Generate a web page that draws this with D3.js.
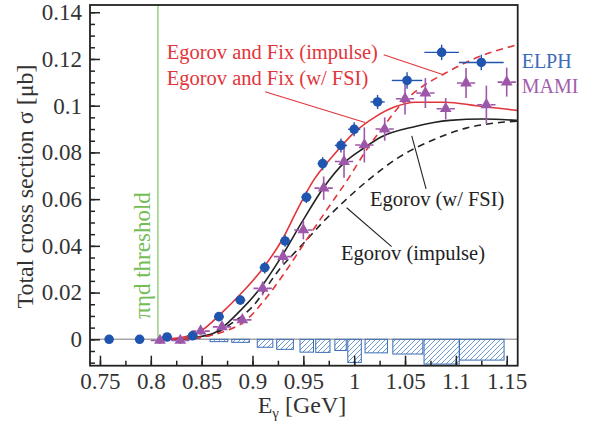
<!DOCTYPE html>
<html><head><meta charset="utf-8">
<script src="https://cdn.jsdelivr.net/npm/d3@7"></script>
<style>
html,body{margin:0;padding:0;background:#fff;}
svg text{font-family:"Liberation Serif","Times New Roman",serif;}
</style></head>
<body><svg id="c" width="590" height="421"></svg>
<script>
// ---------- data ----------
const xTicks = [0.75,0.8,0.85,0.9,0.95,1.0,1.05,1.1,1.15];
const xTickLabels = ["0.75","0.8","0.85","0.9","0.95","1","1.05","1.1","1.15"];
const yTicks = [0,0.02,0.04,0.06,0.08,0.1,0.12,0.14];
const yTickLabels = ["0","0.02","0.04","0.06","0.08","0.1","0.12","0.14"];

// ELPH (blue circles)
const elphE   = [0.759,0.789,0.816,0.841,0.867,0.888,0.912,0.932,0.953,0.969,0.987,1.000,1.023,1.052,1.086,1.125];
const elphV   = [0,0,0.001,0.0015,0.0097,0.0168,0.0307,0.0421,0.0608,0.0752,0.0830,0.0899,0.1016,0.1108,0.1228,0.1185];
const elphDE  = [0.004,0.004,0.005,0.005,0.005,0.005,0.005,0.005,0.005,0.005,0.006,0.006,0.007,0.015,0.017,0.022];
const elphDV  = [0.001,0.001,0.0015,0.0015,0.002,0.002,0.0025,0.0025,0.0025,0.0028,0.003,0.003,0.003,0.0035,0.0033,0.0033];

// MAMI (purple triangles)
const mamiE  = [0.809,0.829,0.849,0.870,0.890,0.910,0.930,0.950,0.970,0.990,1.010,1.030,1.050,1.070,1.090,1.110,1.130,1.150];
const mamiV  = [-0.0005,-0.0005,0.0035,0.0053,0.0083,0.0218,0.0354,0.0468,0.0647,0.0761,0.0832,0.0900,0.1030,0.1054,0.0987,0.1097,0.1004,0.1101];
const mamiDE = [0.009,0.009,0.009,0.009,0.009,0.009,0.009,0.009,0.009,0.009,0.009,0.009,0.009,0.009,0.009,0.009,0.009,0.009];
const mamiDV = [0.0015,0.0015,0.0015,0.0015,0.002,0.003,0.003,0.004,0.005,0.007,0.0075,0.005,0.0068,0.0064,0.0046,0.0064,0.0082,0.0062];

// systematic errors (ELPH, hatched)
const sysLo  = [0.8583,0.8796,0.9047,0.9238,0.9467,0.9622,0.9810,0.9937,1.0107,1.0380,1.0687,1.1034];
const sysHi  = [0.8757,0.8969,0.9200,0.9402,0.9600,0.9762,0.9922,1.0070,1.0327,1.0675,1.1034,1.1474];
const sysErr = [0.0010,0.0013,0.0034,0.0043,0.0055,0.0056,0.0048,0.0099,0.0058,0.0063,0.0106,0.0089];

// theory curves
const efFsiE = [0.807,0.83,0.849,0.869,0.889,0.909,0.929,0.944,0.96,0.98,1.0,1.02,1.04,1.06,1.09,1.12,1.16];
const efFsiV = [0,0.0008,0.0035,0.011,0.0197,0.0297,0.0425,0.0554,0.068,0.079,0.0885,0.095,0.0995,0.1015,0.1015,0.1,0.098];
const efImpE = [0.807,0.83,0.85,0.87,0.894,0.914,0.934,0.953,0.973,0.993,1.012,1.03,1.045,1.06,1.09,1.12,1.16];
const efImpV = [0,0.0002,0.001,0.003,0.0083,0.018,0.030,0.0425,0.0554,0.068,0.081,0.0918,0.1,0.106,0.114,0.1205,0.126];
const egFsiE = [0.807,0.83,0.858,0.8885,0.9087,0.9285,0.948,0.97,0.99,1.01,1.026,1.06,1.094,1.127,1.16];
const egFsiV = [0,0.0003,0.002,0.0125,0.0225,0.0354,0.0497,0.065,0.0755,0.082,0.0865,0.0911,0.0937,0.0943,0.0937];
const egImpE = [0.807,0.835,0.86,0.88,0.9,0.926,0.95,0.97,0.99,1.012,1.045,1.078,1.11,1.143,1.16];
const egImpV = [0,0.0002,0.002,0.007,0.014,0.0297,0.041,0.0505,0.059,0.0675,0.0782,0.0854,0.0904,0.0928,0.0934];

const thresholdE = 0.807;

// annotation texts (anchor in data units) and leader lines
const annTexts = ["Egorov and Fix (impulse)","Egorov and Fix (w/ FSI)","Egorov (w/ FSI)","Egorov (impulse)"];
const annE = [0.8156,0.8156,1.0156,0.987];
const annV = [0.1201,0.1090,0.0569,0.0339];
const annColor = ["#e2353b","#e2353b","#222","#222"];
const leadE1 = [1.0290,0.9124,1.0707,1.0368];
const leadV1 = [0.1218,0.1060,0.0644,0.0397];
const leadE2 = [1.0877,1.0107,1.0566,0.9926];
const leadV2 = [0.1132,0.0928,0.0871,0.0563];

// ---------- drawing ----------
const W = 590, H = 421;
const m = {left:90, top:5, right:72.3, bottom:55.3};
const iw = W - m.left - m.right, ih = H - m.top - m.bottom;
const svg = d3.select("#c");
const x = d3.scaleLinear().domain([0.7402,1.1608]).range([m.left, m.left+iw]);
const y = d3.scaleLinear().domain([-0.0113,0.1431]).range([m.top+ih, m.top]);

const BLUE = "#1f55ae", PURPLE = "#9d57a9", RED = "#e2353b", GREEN = "#74bd55";

const defs = svg.append("defs");
defs.append("clipPath").attr("id","clip").append("rect")
  .attr("x",m.left).attr("y",m.top).attr("width",iw).attr("height",ih);
const pat = defs.append("pattern").attr("id","hatch").attr("patternUnits","userSpaceOnUse")
  .attr("width",5).attr("height",5);
pat.append("path").attr("d","M0,5 L5,0 M-1,1 L1,-1 M4,6 L6,4")
  .attr("stroke","#5b8fd3").attr("stroke-width",0.9);

// zero line
svg.append("line").attr("x1",m.left).attr("x2",m.left+iw).attr("y1",y(0)).attr("y2",y(0))
  .attr("stroke","#a6a6a6").attr("stroke-width",1.6);

// threshold line
svg.append("line").attr("x1",x(thresholdE)).attr("x2",x(thresholdE)).attr("y1",m.top).attr("y2",y(0))
  .attr("stroke",GREEN).attr("stroke-width",1.1);

// sys bars
const sys = sysLo.map((d,i)=>({lo:d,hi:sysHi[i],v:sysErr[i]}));
svg.append("g").selectAll("rect").data(sys).join("rect")
  .attr("x",d=>x(d.lo)).attr("width",d=>x(d.hi)-x(d.lo))
  .attr("y",y(0)).attr("height",d=>y(-d.v)-y(0))
  .attr("fill","url(#hatch)").attr("stroke","#3c6db4").attr("stroke-width",1);

// curves
const plot = svg.append("g").attr("clip-path","url(#clip)");
const line = d3.line().x(d=>x(d[0])).y(d=>y(d[1])).curve(d3.curveMonotoneX);
const curves = [
  {E:egImpE,V:egImpV,c:"#222",dash:"7,5"},
  {E:egFsiE,V:egFsiV,c:"#222",dash:null},
  {E:efImpE,V:efImpV,c:RED,dash:"7,5"},
  {E:efFsiE,V:efFsiV,c:RED,dash:null}
];
curves.forEach(cv=>{
  plot.append("path").attr("d",line(cv.E.map((e,i)=>[e,cv.V[i]])))
    .attr("fill","none").attr("stroke",cv.c).attr("stroke-width",1.6)
    .attr("stroke-dasharray",cv.dash);
});

// MAMI
const mami = mamiE.map((e,i)=>({e,v:mamiV[i],de:mamiDE[i],dv:mamiDV[i]}));
const gm = svg.append("g");
gm.selectAll("line.v").data(mami).join("line").attr("class","v")
  .attr("x1",d=>x(d.e)).attr("x2",d=>x(d.e)).attr("y1",d=>y(d.v-d.dv)).attr("y2",d=>y(d.v+d.dv))
  .attr("stroke",PURPLE).attr("stroke-width",1.6);
gm.selectAll("line.h").data(mami).join("line").attr("class","h")
  .attr("x1",d=>x(d.e-d.de)).attr("x2",d=>x(d.e+d.de)).attr("y1",d=>y(d.v)).attr("y2",d=>y(d.v))
  .attr("stroke",PURPLE).attr("stroke-width",1.6).attr("stroke-dasharray","5,8.3,5");
gm.selectAll("path").data(mami).join("path")
  .attr("d",d3.symbol(d3.symbolTriangle,60))
  .attr("transform",d=>`translate(${x(d.e)},${y(d.v)})`)
  .attr("fill",PURPLE);

// ELPH
const elph = elphE.map((e,i)=>({e,v:elphV[i],de:elphDE[i],dv:elphDV[i]}));
const ge = svg.append("g");
ge.selectAll("line.v").data(elph).join("line").attr("class","v")
  .attr("x1",d=>x(d.e)).attr("x2",d=>x(d.e)).attr("y1",d=>y(d.v-d.dv)).attr("y2",d=>y(d.v+d.dv))
  .attr("stroke",BLUE).attr("stroke-width",1.4);
ge.selectAll("line.h").data(elph).join("line").attr("class","h")
  .attr("x1",d=>x(d.e-d.de)).attr("x2",d=>x(d.e+d.de)).attr("y1",d=>y(d.v)).attr("y2",d=>y(d.v))
  .attr("stroke",BLUE).attr("stroke-width",1.4);
ge.selectAll("circle").data(elph).join("circle")
  .attr("cx",d=>x(d.e)).attr("cy",d=>y(d.v)).attr("r",4.8).attr("fill",BLUE);

// axes
const tickFont = 23;
const yAxis = d3.axisLeft(y).tickValues(yTicks).tickFormat((d,i)=>yTickLabels[i]).tickSize(-10).tickPadding(8);
const yMinor = d3.axisLeft(y).tickValues(d3.range(-2,29).map(k=>k*0.005)).tickFormat("").tickSize(-5);
const xAxis = d3.axisBottom(x).tickValues(xTicks).tickFormat((d,i)=>xTickLabels[i]).tickSize(-10).tickPadding(7);
const xMinor = d3.axisBottom(x).tickValues(d3.range(0,17).map(k=>0.75+k*0.025)).tickFormat("").tickSize(-5);

function styleAxis(g){
  g.attr("font-family",null);
  g.select(".domain").remove();
  g.selectAll("line").attr("stroke","#222").attr("stroke-width",1.5);
  g.selectAll("text").attr("font-size",tickFont).attr("fill","#333")
   .attr("font-family","Liberation Serif, Times New Roman, serif");
}
svg.append("g").attr("transform",`translate(${m.left},0)`).call(yMinor).call(styleAxis);
svg.append("g").attr("transform",`translate(${m.left},0)`).call(yAxis).call(styleAxis);
svg.append("g").attr("transform",`translate(0,${m.top+ih})`).call(xMinor).call(styleAxis);
svg.append("g").attr("transform",`translate(0,${m.top+ih})`).call(xAxis).call(styleAxis);

// frame
svg.append("rect").attr("x",m.left).attr("y",m.top).attr("width",iw).attr("height",ih)
  .attr("fill","none").attr("stroke","#222").attr("stroke-width",1.8);

// axis titles
svg.append("text").attr("transform",`translate(33,${186.5}) rotate(-90)`)
  .attr("text-anchor","middle").attr("font-size",24).attr("fill","#333")
  .text("Total cross section σ [μb]");
const xt = svg.append("text").attr("x",302).attr("y",413).attr("text-anchor","middle")
  .attr("font-size",24).attr("fill","#333");
xt.append("tspan").text("E");
xt.append("tspan").attr("font-size",15).attr("dy",5).text("γ");
xt.append("tspan").attr("dy",-5).text(" [GeV]");

// threshold label
svg.append("text").attr("transform",`translate(${x(0.7992)},${y(0.0359)}) rotate(-90)`)
  .attr("text-anchor","middle").attr("font-size",23).attr("fill",GREEN)
  .text("πηd threshold");

// annotations
annTexts.forEach((t,i)=>{
  svg.append("text").attr("x",x(annE[i])).attr("y",y(annV[i])).attr("font-size",20.5)
    .attr("fill",annColor[i]).text(t);
  svg.append("line").attr("x1",x(leadE1[i])).attr("y1",y(leadV1[i]))
    .attr("x2",x(leadE2[i])).attr("y2",y(leadV2[i]))
    .attr("stroke",annColor[i]).attr("stroke-width",1.1);
});
svg.append("text").attr("x",521.7).attr("y",y(0.1161)).attr("font-size",20).attr("fill","#3b6cb7").text("ELPH");
svg.append("text").attr("x",521.7).attr("y",y(0.1054)).attr("font-size",20).attr("fill","#a060ab").text("MAMI");
</script></body></html>
